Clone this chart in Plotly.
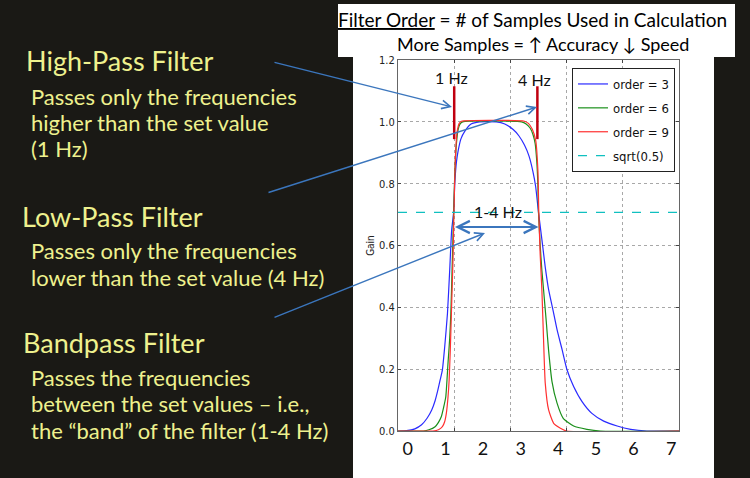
import plotly.graph_objects as go

# ---------------- data ----------------
# x in the plot's own axis units (gridlines at 0..5), y = gain
order3_x = [0.00, 0.15, 0.30, 0.42, 0.52, 0.60, 0.66, 0.71, 0.75, 0.79, 0.83, 0.88, 0.92, 0.955, 0.99,
            1.01, 1.04, 1.07, 1.12, 1.19, 1.30, 1.45, 1.75, 1.90, 2.05, 2.15, 2.25, 2.33, 2.40, 2.45,
            2.50, 2.56, 2.62, 2.68, 2.757, 2.83, 2.92, 3.007, 3.125, 3.275, 3.45, 3.66, 3.90, 4.14, 4.43, 5.00]
order3_y = [0.000, 0.001, 0.007, 0.020, 0.042, 0.068, 0.098, 0.133, 0.165, 0.198, 0.270, 0.380, 0.520, 0.650, 0.707,
            0.800, 0.870, 0.906, 0.945, 0.970, 0.993, 1.000, 1.000, 0.993, 0.975, 0.955, 0.925, 0.890, 0.840, 0.790,
            0.707, 0.620, 0.530, 0.457, 0.392, 0.328, 0.263, 0.198, 0.144, 0.095, 0.057, 0.032, 0.016, 0.0055, 0.000, 0.000]

order6_x = [0.00, 0.45, 0.55, 0.66, 0.72, 0.77, 0.81, 0.85, 0.89, 0.92, 0.94, 0.965, 0.99, 1.01, 1.04,
            1.07, 1.10, 1.15, 2.20, 2.28, 2.35, 2.40, 2.44, 2.47, 2.49, 2.50, 2.53, 2.56, 2.59, 2.64,
            2.68, 2.74, 2.83, 2.94, 3.125, 3.36, 3.60, 5.00]
order6_y = [0.000, 0.000, 0.004, 0.014, 0.028, 0.046, 0.075, 0.110, 0.220, 0.300, 0.380, 0.540, 0.707, 0.830, 0.930,
            0.975, 0.992, 1.000, 1.000, 0.993, 0.980, 0.960, 0.930, 0.870, 0.790, 0.707, 0.600, 0.520, 0.457, 0.350,
            0.260, 0.160, 0.090, 0.041, 0.016, 0.0055, 0.000, 0.000]

order9_x = [0.00, 0.62, 0.72, 0.79, 0.83, 0.86, 0.89, 0.91, 0.93, 0.95, 0.98, 0.995, 1.02, 1.05, 1.09,
            1.13, 2.25, 2.32, 2.39, 2.45, 2.49, 2.505, 2.53, 2.56, 2.59, 2.62, 2.68, 2.77, 2.89, 3.00, 5.00]
order9_y = [0.000, 0.000, 0.004, 0.014, 0.030, 0.057, 0.110, 0.165, 0.260, 0.380, 0.565, 0.707, 0.880, 0.965, 0.995,
            1.002, 1.002, 0.995, 0.976, 0.940, 0.840, 0.707, 0.570, 0.457, 0.295, 0.155, 0.068, 0.025, 0.009, 0.000, 0.000]

sqrt_half_x = [0.0, 5.0]
sqrt_half_y = [0.7071, 0.7071]

series_names = ["order = 3", "order = 6", "order = 9", "sqrt(0.5)"]

y_tick_vals = [0.0, 0.2, 0.4, 0.6, 0.8, 1.0, 1.2]
y_tick_text = ["0.0", "0.2", "0.4", "0.6", "0.8", "1.0", "1.2"]
hz_tick_vals = [0, 1, 2, 3, 4, 5, 6, 7]
hz_tick_text = ["0", "1", "2", "3", "4", "5", "6", "7"]

cutoff_x = [1.0, 2.48]
cutoff_labels = ["1 Hz", "4 Hz"]

title_lines = ["<u>Filter Order</u> = # of Samples Used in Calculation",
               "More Samples = \u2191 Accuracy \u2193 Speed"]
headings = ["High-Pass Filter", "Low-Pass Filter", "Bandpass Filter"]
descriptions = [["Passes only the frequencies", "higher than the set value", "(1 Hz)"],
                ["Passes only the frequencies", "lower than the set value (4 Hz)"],
                ["Passes the frequencies", "between the set values \u2013 i.e.,",
                 "the \u201cband\u201d of the filter (1-4 Hz)"]]

# ---------------- layout helpers (page pixels -> paper) ----------------
W, H = 750, 478
ML, MR, MT, MB = 398, 71, 60, 47
PW, PH = W - ML - MR, H - MT - MB


def px(x):
    return (x - ML) / PW


def py(y):
    return (H - MB - y) / PH


BG = "#1a1915"
YEL = "#eef18e"
ARROW = "#3b76bd"
SLIDE_FONT = "Lato"
NARROW = "Liberation Sans Narrow, DejaVu Sans Condensed, Roboto, sans-serif"

fig = go.Figure()

colors = ["#2a2aff", "#1a8f1a", "#ff3030"]
for i, (xs, ys) in enumerate([(order3_x, order3_y), (order6_x, order6_y), (order9_x, order9_y)]):
    fig.add_trace(go.Scatter(x=xs, y=ys, mode="lines", name=series_names[i],
                             legendgroup=f"g{i}",
                             line=dict(color=colors[i], width=1.2, shape="spline", smoothing=0.5)))
fig.add_trace(go.Scatter(x=sqrt_half_x, y=sqrt_half_y, mode="lines", name=series_names[3],
                         legendgroup="g3", line=dict(color="#10c0c0", width=1.2, dash="dash")))
# dummy trace so the Hz label axis exists
fig.add_trace(go.Scatter(x=[None], y=[None], xaxis="x2", showlegend=False, hoverinfo="skip"))

shapes = [
    dict(type="rect", xref="paper", yref="paper", x0=px(338), x1=px(735), y0=py(57), y1=py(4),
         fillcolor="white", line=dict(width=0), layer="below"),
    dict(type="rect", xref="paper", yref="paper", x0=px(353), x1=px(714), y0=py(480), y1=py(56),
         fillcolor="white", line=dict(width=0), layer="below"),
]
for cx in cutoff_x:
    shapes.append(dict(type="line", xref="x", yref="y", x0=cx, x1=cx, y0=0.944, y1=1.115,
                       line=dict(color="#c00010", width=2.5)))

annotations = []
# title box text
for txt, xx, yy, sz in zip(title_lines, [532, 543], [20, 44], [19, 18]):
    annotations.append(dict(xref="paper", yref="paper", x=px(xx), y=py(yy), text=txt,
                            xanchor="center", yanchor="middle", showarrow=False,
                            font=dict(family=SLIDE_FONT, size=sz, color="#000")))
# left side text
head_pos = [(24, 60), (20, 216), (21, 342)]
desc_y = [[97, 122.5, 148], [250, 277], [377, 403.5, 430]]
for i in range(3):
    annotations.append(dict(xref="paper", yref="paper", x=px(head_pos[i][0]), y=py(head_pos[i][1]),
                            text=headings[i], showarrow=False, xanchor="left", yanchor="middle",
                            font=dict(family=SLIDE_FONT, size=27, color=YEL)))
    for line, yy in zip(descriptions[i], desc_y[i]):
        annotations.append(dict(xref="paper", yref="paper", x=px(29), y=py(yy),
                                text=line, showarrow=False, xanchor="left", yanchor="middle",
                                font=dict(family=SLIDE_FONT, size=22, color=YEL)))
# cutoff labels
annotations.append(dict(xref="x", yref="y", x=0.95, y=1.142, text=cutoff_labels[0], showarrow=False,
                        xanchor="center", yanchor="middle",
                        font=dict(family=SLIDE_FONT, size=16, color="#111")))
annotations.append(dict(xref="x", yref="y", x=2.42, y=1.138, text=cutoff_labels[1], showarrow=False,
                        xanchor="center", yanchor="middle",
                        font=dict(family=SLIDE_FONT, size=16, color="#111")))
annotations.append(dict(xref="x", yref="y", x=1.78, y=0.71, text="1-4 Hz", showarrow=False,
                        xanchor="center", yanchor="middle",
                        font=dict(family=SLIDE_FONT, size=16, color="#111")))
# band double arrow
annotations.append(dict(xref="x", yref="y", x=2.5, y=0.66, ax=-85, ay=0, axref="pixel", ayref="pixel",
                        text="", showarrow=True, arrowhead=5, startarrowhead=5, arrowside="end+start",
                        arrowsize=1.2, arrowwidth=2, arrowcolor=ARROW, standoff=0, startstandoff=0))
# pointer arrows from the text to the chart
for (tx, ty), (hx, hy) in [((273, 62), (452, 107)), ((267, 193), (537, 107)), ((273, 318), (485, 233))]:
    annotations.append(dict(xref="paper", yref="paper", x=px(hx), y=py(hy), ax=tx - hx, ay=ty - hy,
                            axref="pixel", ayref="pixel", text="", showarrow=True, arrowhead=5,
                            arrowsize=1.2, arrowwidth=1.4, arrowcolor=ARROW, standoff=0))

fig.update_layout(
    width=W, height=H, autosize=False,
    margin=dict(l=ML, r=MR, t=MT, b=MB, pad=0),
    paper_bgcolor=BG, plot_bgcolor="white",
    showlegend=True,
    legend=dict(x=px(675), y=py(68), xanchor="right", yanchor="top", bgcolor="white",
                bordercolor="#222", borderwidth=1, tracegroupgap=4,
                font=dict(family=NARROW, size=13, color="#111")),
    xaxis=dict(range=[0, 5], dtick=1, tick0=0, showticklabels=False, showgrid=True,
               gridcolor="#a8a8a8", griddash="dot", gridwidth=1, zeroline=False,
               showline=True, linecolor="#666", linewidth=1, mirror="ticks",
               ticks="inside", ticklen=3, tickcolor="#444"),
    xaxis2=dict(overlaying="x", side="bottom", anchor="y", range=[-0.26, 7.21],
                tickvals=hz_tick_vals, ticktext=hz_tick_text, showgrid=False, zeroline=False,
                showline=False, ticks="", ticklabelstandoff=5,
                tickfont=dict(family=SLIDE_FONT, size=18, color="#111")),
    yaxis=dict(range=[0, 1.2], tickvals=y_tick_vals, ticktext=y_tick_text, showgrid=True,
               gridcolor="#a8a8a8", griddash="dot", zeroline=False,
               showline=True, linecolor="#666", linewidth=1, mirror="ticks",
               ticks="inside", ticklen=3, tickcolor="#444",
               tickfont=dict(family=NARROW, size=11, color="#222"),
               title=dict(text="Gain", standoff=2, font=dict(family=NARROW, size=10, color="#222"))),
    shapes=shapes,
    annotations=annotations,
)

fig.write_html("out.html", config={"displayModeBar": False},
               post_script="document.body.style.margin='0';document.body.style.padding='0';"
                           "document.documentElement.style.overflow='hidden';")
